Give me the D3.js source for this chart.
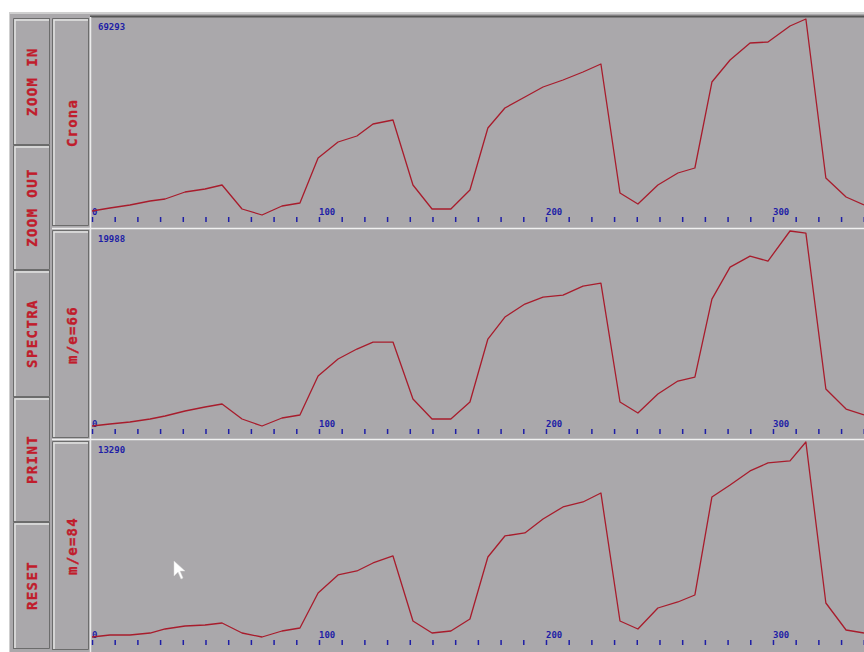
<!DOCTYPE html>
<html>
<head>
<meta charset="utf-8">
<script src="https://cdn.jsdelivr.net/npm/d3@7/dist/d3.min.js"></script>
<style>
  html, body { margin: 0; padding: 0; background: #ffffff; }
  svg { display: block; }
  .btn-text, .lbl-text { font-family: "DejaVu Sans Mono", monospace; font-weight: bold; fill: #c01c2c; }
  .num { font-family: "DejaVu Sans Mono", monospace; font-weight: bold; fill: #1e1ea6; font-size: 9px; }
</style>
</head>
<body>
<svg id="chart" width="864" height="652"></svg>
<script>
// Scan positions shared by the three traces
const scanX = [0, 7.9, 16.7, 25.6, 32.2, 41.0, 49.8, 57.3, 66.1, 74.9, 83.7, 91.6, 99.6, 108.4,
  116.7, 123.8, 132.6, 141.4, 149.8, 158.1, 166.5, 174.4, 181.9, 190.7, 198.7, 207.5, 216.3,
  224.2, 232.6, 240.5, 249.3, 258.1, 265.6, 273.1, 281.1, 289.9, 297.8, 307.5, 314.5, 323.3,
  332.2, 340.1];

// Total ion current
const cronaValues = [2437, 3482, 4527, 5919, 6616, 9053, 10098, 11491, 3134, 1045, 4178, 5223,
  20892, 26463, 28552, 32731, 34124, 11491, 3134, 3134, 9750, 31338, 38302, 42132, 45614,
  48052, 50837, 53623, 8705, 4875, 11491, 15669, 17410, 47355, 55016, 60935, 61283, 66854,
  69293, 13928, 7312, 4527];

// Selected ion m/e=66
const me66Values = [402, 602, 803, 1104, 1406, 1908, 2309, 2610, 1104, 402, 1205, 1506, 5422,
  7128, 8132, 8835, 8835, 3112, 1104, 1104, 2811, 9136, 11345, 12650, 13353, 13554, 14458,
  14759, 2811, 1707, 3614, 4920, 5321, 13152, 16365, 17470, 16968, 19988, 19779, 4116, 2108,
  1506];

// Selected ion m/e=84
const me84Values = [267, 401, 401, 534, 802, 1002, 1069, 1202, 534, 267, 668, 868, 3206, 4409,
  4676, 5210, 5678, 1336, 534, 668, 1470, 5611, 7014, 7214, 8150, 8951, 9285, 9886, 1336, 802,
  2204, 2605, 3073, 9619, 10421, 11356, 11890, 12024, 13290, 2538, 735, 534];

const panelLabels = ["Crona", "m/e=66", "m/e=84"];
const panelMax = [69293, 19988, 13290];
const buttonLabels = ["ZOOM IN", "ZOOM OUT", "SPECTRA", "PRINT", "RESET"];
const tickLabels = [0, 100, 200, 300];
const minorTicks = [0, 10, 20, 30, 40, 50, 60, 70, 80, 90, 100, 110, 120, 130, 140, 150, 160,
  170, 180, 190, 200, 210, 220, 230, 240, 250, 260, 270, 280, 290, 300, 310, 320, 330, 340];

const series = [cronaValues, me66Values, me84Values];

const svg = d3.select("#chart");
const gray = "#aaa8ab";
const light = "#e4e4e4";
const dark = "#6c6c6c";

// window background
svg.append("rect").attr("x", 9).attr("y", 12).attr("width", 855).attr("height", 640)
  .attr("fill", gray);
svg.append("line").attr("x1", 9).attr("x2", 864).attr("y1", 13).attr("y2", 13)
  .attr("stroke", "#cfcfcf").attr("stroke-width", 2);
svg.append("line").attr("x1", 9.5).attr("x2", 9.5).attr("y1", 12).attr("y2", 652)
  .attr("stroke", "#cfcfcf").attr("stroke-width", 1);

// bevelled box helper
function bevel(g, x0, y0, x1, y1) {
  g.append("rect").attr("x", x0).attr("y", y0).attr("width", x1 - x0).attr("height", y1 - y0)
    .attr("fill", gray);
  g.append("path").attr("d", `M${x0 + 0.5},${y1} V${y0 + 0.5} H${x1}`)
    .attr("fill", "none").attr("stroke", dark).attr("stroke-width", 1);
  g.append("path").attr("d", `M${x0 + 2},${y1 - 1} V${y0 + 2} H${x1 - 1}`)
    .attr("fill", "none").attr("stroke", light).attr("stroke-width", 1.5);
  g.append("path").attr("d", `M${x0 + 1},${y1 - 0.5} H${x1 - 0.5} V${y0 + 1}`)
    .attr("fill", "none").attr("stroke", dark).attr("stroke-width", 1);
}

// button column
const btnEdges = [18, 145, 270, 397, 522, 649];
const btnG = svg.append("g");
buttonLabels.forEach((b, i) => {
  bevel(btnG, 13, btnEdges[i], 50, btnEdges[i + 1]);
  const cy = (btnEdges[i] + btnEdges[i + 1]) / 2;
  btnG.append("text").attr("class", "btn-text")
    .attr("transform", `translate(32,${cy}) rotate(-90)`)
    .attr("text-anchor", "middle").attr("dominant-baseline", "central")
    .attr("font-size", 14).attr("letter-spacing", 1.4)
    .attr("stroke", "#c01c2c").attr("stroke-width", 0.35)
    .text(b);
});

// plot panels
const panelTop = [18, 230, 441];
const panelH = 210;
const x = d3.scaleLinear().domain([0, 340.1]).range([92, 864]);

// dark top border of the plot area
svg.append("line").attr("x1", 90).attr("x2", 864).attr("y1", 16.5).attr("y2", 16.5)
  .attr("stroke", "#555555").attr("stroke-width", 2);

series.forEach((vals, i) => {
  const T = panelTop[i];
  const g = svg.append("g");

  // label box on the left
  bevel(g, 52, T, 89, T + panelH - (i === 2 ? 1 : 2));
  g.append("text").attr("class", "lbl-text")
    .attr("transform", `translate(72,${T + panelH / 2}) rotate(-90)`)
    .attr("text-anchor", "middle").attr("dominant-baseline", "central")
    .attr("font-size", 14).attr("letter-spacing", 1.2)
    .attr("stroke", "#c01c2c").attr("stroke-width", 0.35)
    .text(panelLabels[i]);

  // separator between panels
  if (i > 0) {
    g.append("line").attr("x1", 52).attr("x2", 864).attr("y1", T - 1.5).attr("y2", T - 1.5)
      .attr("stroke", "#f0f0f0").attr("stroke-width", 1.5);
  }

  const y = d3.scaleLinear().domain([0, panelMax[i]]).range([T + 200, T + 1]);

  // ticks along the scan axis
  const axis = d3.axisBottom(x).tickValues(minorTicks).tickSize(5).tickFormat("");
  const ax = g.append("g").attr("transform", `translate(0,${T + 199})`).call(axis);
  ax.select(".domain").remove();
  ax.selectAll(".tick line").attr("stroke", "#1e1ea6").attr("stroke-width", 1.5);

  g.selectAll(".tlab").data(tickLabels).enter().append("text")
    .attr("class", "num").attr("font-size", 9.5)
    .attr("x", d => x(d)).attr("y", T + 197)
    .text(d => d);

  // full-scale value
  g.append("text").attr("class", "num").attr("x", 98).attr("y", T + 12)
    .text(panelMax[i]);

  const line = d3.line().x((d, j) => x(scanX[j])).y(d => y(d));
  g.append("path").datum(vals).attr("d", line)
    .attr("fill", "none").attr("stroke", "#a81c2c").attr("stroke-width", 1.3)
    .attr("stroke-linejoin", "round");
});

// left edge of plot area
svg.append("line").attr("x1", 90.5).attr("x2", 90.5).attr("y1", 17).attr("y2", 652)
  .attr("stroke", "#ececec").attr("stroke-width", 1.5);

// mouse pointer
svg.append("path")
  .attr("d", "M0,0 L0,15 L4,11 L7,18 L9,17 L6,10 L11,10 Z")
  .attr("transform", "translate(174,561)")
  .attr("fill", "#ffffff").attr("stroke", "#d8d8d8").attr("stroke-width", 0.5);
</script>
</body>
</html>
